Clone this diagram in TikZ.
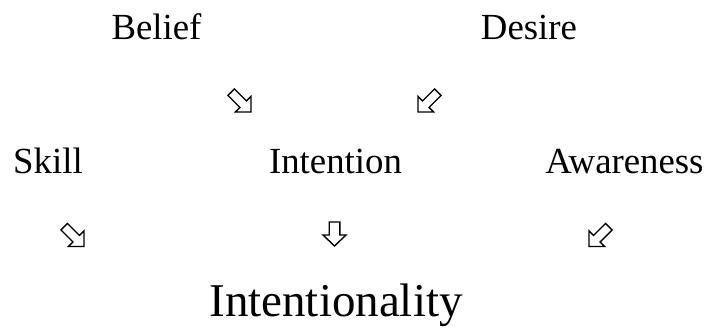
\documentclass[tikz,border=0pt]{standalone}
\usepackage{fontspec}
\setmainfont{Liberation Serif}
\begin{document}
\begin{tikzpicture}[x=1pt,y=1pt,
  term/.style={anchor=base,inner sep=0pt,font=\fontsize{36.8}{40}\selectfont},
  goal/.style={anchor=base,inner sep=0pt,font=\fontsize{47}{52}\selectfont},
  hollowarrow/.pic={
    \draw[line width=1.4pt,line join=miter,fill=white]
      (0,0) -- (11,11) -- (4.6,11) -- (4.6,28) -- (-4.6,28) -- (-4.6,11) -- (-11,11) -- cycle;
  },
  downarrow/.pic={
    \draw[line width=1.4pt,line join=miter,fill=white]
      (0,0) -- (11.5,11) -- (5.3,11) -- (5.3,24) -- (-5.3,24) -- (-5.3,11) -- (-11.5,11) -- cycle;
  }]
\useasboundingbox (0,0) rectangle (707,327);

% factors
\node[term] (belief) at (156.5,287) {Belief};
\node[term] (desire) at (529,287) {Desire};
\node[term] (skill) at (48,153.5) {Skill};
\node[term] (intention) at (335.5,153.5) {Intention};
\node[term] (awareness) at (624.5,153.5) {Awareness};
\node[goal] (intentionality) at (336,11) {Intentionality};

% arrow tips
\coordinate (tipBI) at (251,215);
\coordinate (tipDI) at (418,215);
\coordinate (tipS) at (84,80.5);
\coordinate (tipI) at (334.5,81);
\coordinate (tipA) at (589,80.5);

% hollow block arrows
\pic[rotate=45] at (tipBI) {hollowarrow};
\pic[rotate=-45] at (tipDI) {hollowarrow};
\pic[rotate=45] at (tipS) {hollowarrow};
\pic at (tipI) {downarrow};
\pic[rotate=-45] at (tipA) {hollowarrow};
\end{tikzpicture}
\end{document}
